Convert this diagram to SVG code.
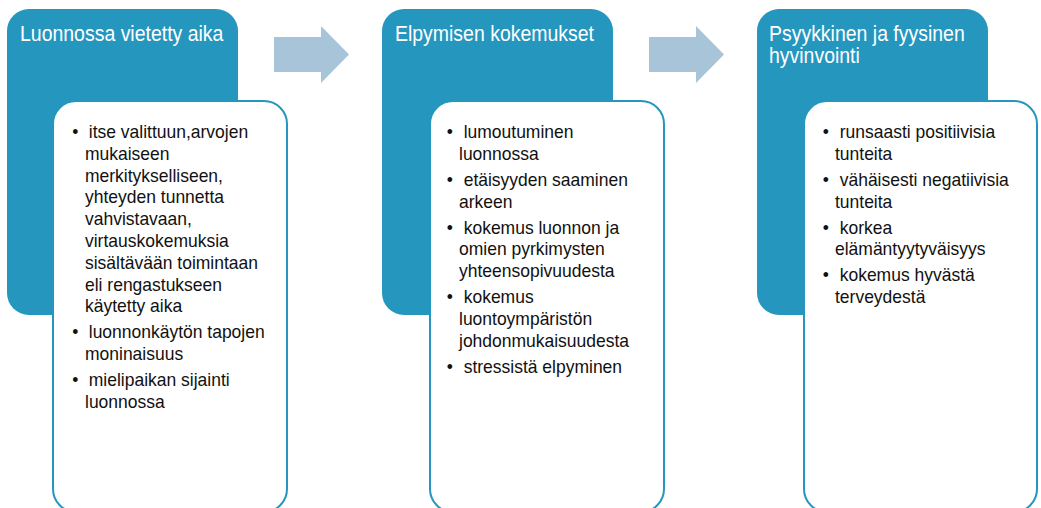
<svg xmlns="http://www.w3.org/2000/svg" width="1041" height="508" viewBox="0 0 1041 508">
  <style>
    .head { fill: #2596be; }
    .card { fill: #ffffff; stroke: #2596be; stroke-width: 2; }
    .title { font-family: "Liberation Sans", Arial, sans-serif; font-size: 22px; fill: #ffffff; }
    .body { font-family: "Liberation Sans", Arial, sans-serif; font-size: 18.6px; fill: #111111; }
    .flow { fill: #a7c4d9; }
  </style>
  <rect width="1041" height="508" fill="#ffffff"/>

  <!-- flow arrows between the stages -->
  <g id="connectors">
    <polygon class="flow" points="274,37 321,37 321,26 349,54.5 321,83 321,72 274,72"/>
    <polygon class="flow" points="649,37 696,37 696,26 724,54.5 696,83 696,72 649,72"/>
  </g>

  <!-- stage 1 (narrow type: horizontal scale about the text column) -->
  <g id="node-1">
    <rect class="head" x="7" y="9" width="231" height="306" rx="22"/>
    <g transform="matrix(0.885,0,0,1,2.3,0)">
      <text class="title" x="20" y="41">Luonnossa vietetty aika</text>
    </g>
    <rect class="card" x="53" y="101" width="234" height="411" rx="23"/>
    <g class="body" transform="matrix(0.94,0,0,1,5.1,0)">
      <text x="71.5" y="138">•</text>
      <text x="71.5" y="338.4">•</text>
      <text x="71.5" y="386.2">•</text>
      <text x="85" y="138"><tspan x="89">itse valittuun,arvojen</tspan><tspan x="85" dy="21.8">mukaiseen</tspan><tspan x="85" dy="21.8">merkitykselliseen,</tspan><tspan x="85" dy="21.8">yhteyden tunnetta</tspan><tspan x="85" dy="21.8">vahvistavaan,</tspan><tspan x="85" dy="21.8">virtauskokemuksia</tspan><tspan x="85" dy="21.8">sisältävään toimintaan</tspan><tspan x="85" dy="21.8">eli rengastukseen</tspan><tspan x="85" dy="21.8">käytetty aika</tspan></text>
      <text x="85" y="338.4"><tspan x="89">luonnonkäytön tapojen</tspan><tspan x="85" dy="21.8">moninaisuus</tspan></text>
      <text x="85" y="386.2"><tspan x="89">mielipaikan sijainti</tspan><tspan x="85" dy="21.8">luonnossa</tspan></text>
    </g>
  </g>

  <!-- stage 2 -->
  <g id="node-2">
    <rect class="head" x="382" y="9" width="231" height="306" rx="22"/>
    <g transform="matrix(0.885,0,0,1,45.4,0)">
      <text class="title" x="395" y="41">Elpymisen kokemukset</text>
    </g>
    <rect class="card" x="430" y="101" width="234" height="411" rx="23"/>
    <g class="body" transform="matrix(0.94,0,0,1,27.54,0)">
      <text x="446" y="138">•</text>
      <text x="446" y="185.8">•</text>
      <text x="446" y="233.6">•</text>
      <text x="446" y="303.2">•</text>
      <text x="446" y="372.8">•</text>
      <text x="459" y="138"><tspan x="464">lumoutuminen</tspan><tspan x="459" dy="21.8">luonnossa</tspan></text>
      <text x="459" y="185.8"><tspan x="464">etäisyyden saaminen</tspan><tspan x="459" dy="21.8">arkeen</tspan></text>
      <text x="459" y="233.6"><tspan x="464">kokemus luonnon ja</tspan><tspan x="459" dy="21.8">omien pyrkimysten</tspan><tspan x="459" dy="21.8">yhteensopivuudesta</tspan></text>
      <text x="459" y="303.2"><tspan x="464">kokemus</tspan><tspan x="459" dy="21.8">luontoympäristön</tspan><tspan x="459" dy="21.8">johdonmukaisuudesta</tspan></text>
      <text x="464" y="372.8">stressistä elpyminen</text>
    </g>
  </g>

  <!-- stage 3 -->
  <g id="node-3">
    <rect class="head" x="757" y="9" width="231" height="306" rx="22"/>
    <g transform="matrix(0.885,0,0,1,88.4,0)">
      <text class="title" x="769" y="41"><tspan x="769">Psyykkinen ja fyysinen</tspan><tspan x="769" dy="21.8">hyvinvointi</tspan></text>
    </g>
    <rect class="card" x="804" y="101" width="233" height="411" rx="23"/>
    <g class="body" transform="matrix(0.94,0,0,1,50.1,0)">
      <text x="822" y="138">•</text>
      <text x="822" y="185.8">•</text>
      <text x="822" y="233.6">•</text>
      <text x="822" y="281.4">•</text>
      <text x="835" y="138"><tspan x="840">runsaasti positiivisia</tspan><tspan x="835" dy="21.8">tunteita</tspan></text>
      <text x="835" y="185.8"><tspan x="840">vähäisesti negatiivisia</tspan><tspan x="835" dy="21.8">tunteita</tspan></text>
      <text x="835" y="233.6"><tspan x="840">korkea</tspan><tspan x="835" dy="21.8">elämäntyytyväisyys</tspan></text>
      <text x="835" y="281.4"><tspan x="840">kokemus hyvästä</tspan><tspan x="835" dy="21.8">terveydestä</tspan></text>
    </g>
  </g>
</svg>
